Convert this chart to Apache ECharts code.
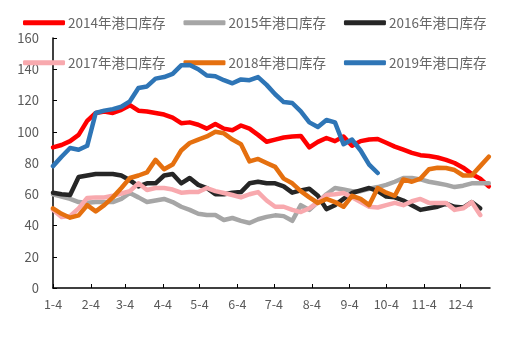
<!DOCTYPE html>
<html><head><meta charset="utf-8">
<script src="https://cdn.jsdelivr.net/npm/echarts@6/dist/echarts.min.js"></script>
<style>html,body{margin:0;padding:0;background:#fff}#c{width:518px;height:339px}</style>
</head><body><div id="c"></div>
<script>
// x: days since Jan 4, weekly observations
const weekStepDays = 7;
const monthTickDays = [0,31,59,90,120,151,181,212,243,273,304,334];
const monthLabels = ['1-4','2-4','3-4','4-4','5-4','6-4','7-4','8-4','9-4','10-4','11-4','12-4'];
const seriesNames = ['2014年港口库存','2015年港口库存','2016年港口库存','2017年港口库存','2018年港口库存','2019年港口库存'];
const seriesColors = ['#FF0000','#A6A6A6','#262626','#F8A9AE','#E5700F','#2E75B6'];

const y2014 = [90,91.5,94,98,107,112,113,112,114,117,113.5,113,112,111,109,105.5,106,104.5,102,105,102,101,104,102,98,93.6,95,96.3,97,97.3,90,93.5,96,94,97,91,94,95,95.4,93,90.5,88.5,86.5,85,84.5,83.5,82,80,77,73,70,65];
const y2015 = [60,58.5,57,55,54.5,55,55,55,57,60.8,58,55,56,57,55,52,50,47.5,46.7,46.7,43.5,44.8,43,41.6,44,45.5,46.5,46,43,53,50,55,60,64,63,62,62,63.5,64.6,66,68,70.4,70.4,69.5,68,67,66,64.6,65.5,67,67,67];
const y2016 = [61,60,59.5,71,72,73,73,73,72,69,65,67,67,72,73,67,70.4,66,64,60,60,61,61.4,67,68,67,67,65,61,62.5,63.5,59,50.5,53,57,60.8,62.5,64,62,58.5,58,56,53,50,51,52,54,52,51.5,55,51];
const y2017 = [50,45.5,46,51,57.6,58,58,59,60.5,62,67,62.7,64,64,63,61,61.4,61.4,64,62,60.8,59.5,58,60,61.4,56,52,52,50,48.6,51,55,59.5,60,60.8,58,55,52,51.5,53,54.5,53,55.5,57,54.5,54.4,54.4,50,51,55,46.7];
const y2018 = [51,47.5,45,46.5,53,49,53,58,64,70.4,72,74,82,76,79,88,92.8,95,97,100,99,95,92,81,82.6,80,77.5,70,67,62,58,54.4,57,55,52,59,57,53,64,61,59,69.5,68,70,76,77,76.8,75.5,72,72,78,84];
const y2019 = [78,84,89.6,88.5,91,112,113.5,114.5,116,119.5,128,129,134,135,137,142.5,142.7,140,136,135.5,133,131,133.5,133,135,130,124,119,118.4,113,106,103,107.5,106,92,95,88,79,73.6];

const allValues = [y2014,y2015,y2016,y2017,y2018,y2019];
const font = "'Noto Sans CJK SC', 'Noto Sans', sans-serif";

const series = allValues.map((vals, k) => ({
  name: seriesNames[k],
  type: 'line',
  data: vals.map((v, i) => [i * weekStepDays, v]),
  showSymbol: false,
  symbol: 'none',
  lineStyle: {width: 4.5, color: seriesColors[k], cap: 'round', join: 'round'},
  itemStyle: {color: seriesColors[k]},
  z: 2 + k
}));

const legendCommon = {
  left: 23, itemWidth: 42, itemHeight: 5, itemGap: 18, icon: 'roundRect',
  textStyle: {fontFamily: font, fontSize: 13.5, color: '#666666', padding: [0,0,0,-2]},
  padding: 0
};

const chart = echarts.init(document.getElementById('c'), null, {renderer: 'canvas'});
chart.setOption({
  animation: false,
  backgroundColor: '#fff',
  legend: [
    Object.assign({}, legendCommon, {top: 16, data: seriesNames.slice(0,3)}),
    Object.assign({}, legendCommon, {top: 56, data: seriesNames.slice(3,6)})
  ],
  grid: {left: 53, right: 28, top: 38, bottom: 51, containLabel: false},
  xAxis: {
    type: 'value', min: 0, max: 358,
    axisLine: {lineStyle: {color: '#000', width: 1.5}},
    axisTick: {inside: true, length: 4, customValues: monthTickDays, lineStyle: {color: '#000'}},
    axisLabel: {customValues: monthTickDays, formatter: v => monthLabels[monthTickDays.indexOf(v)], color: '#595959', fontFamily: font, fontSize: 12.5, margin: 10},
    splitLine: {show: false}
  },
  yAxis: {
    type: 'value', min: 0, max: 160, interval: 20,
    axisLine: {show: true, lineStyle: {color: '#000', width: 1.5}},
    axisTick: {show: true, inside: true, length: 4, lineStyle: {color: '#000'}},
    axisLabel: {color: '#595959', fontFamily: font, fontSize: 13, margin: 14},
    splitLine: {show: false}
  },
  series: series
});
</script></body></html>
